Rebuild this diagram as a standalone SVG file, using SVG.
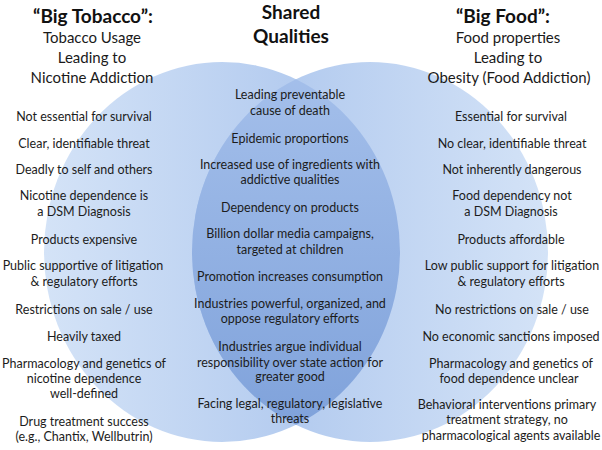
<svg xmlns="http://www.w3.org/2000/svg" width="602" height="450" viewBox="0 0 602 450">
<style>
text{font-family:Lato,"Open Sans","Liberation Sans",sans-serif;fill:#1c1c1c;text-anchor:middle}
.h{font-weight:bold;font-size:19px;fill:#111}
.s{font-size:15px;fill:#1a1a1a}
.i{font-size:12.5px}
</style>
<defs>
<linearGradient id="gL" x1="0" y1="0" x2="1" y2="0">
<stop offset="0" stop-color="#d4e3f7"/>
<stop offset="1" stop-color="#a7c2ec"/>
</linearGradient>
<linearGradient id="gR" x1="1" y1="0" x2="0" y2="0">
<stop offset="0" stop-color="#d4e3f7"/>
<stop offset="1" stop-color="#a7c2ec"/>
</linearGradient>
<linearGradient id="gM" x1="0" y1="0" x2="0" y2="1">
<stop offset="0" stop-color="#a5c0eb"/>
<stop offset="1" stop-color="#7ea1da"/>
</linearGradient>
<clipPath id="cL"><ellipse cx="222" cy="252" rx="178" ry="190"/></clipPath>
</defs>
<g id="venn">
<ellipse id="circle-tobacco" cx="222" cy="252" rx="178" ry="190" fill="url(#gL)"/>
<ellipse id="circle-food" cx="370" cy="252" rx="178" ry="190" fill="url(#gR)"/>
<ellipse id="overlap" cx="370" cy="252" rx="178" ry="190" fill="url(#gM)" clip-path="url(#cL)"/>
</g>
<g id="header-tobacco">
<text class="h" x="93" y="23">“Big Tobacco”:</text>
<text class="s" x="92" y="43">Tobacco Usage</text>
<text class="s" x="92" y="63">Leading to</text>
<text class="s" x="92" y="83">Nicotine Addiction</text>
</g>
<g id="header-shared">
<text class="h" x="291" y="19">Shared</text>
<text class="h" x="291" y="43">Qualities</text>
</g>
<g id="header-food">
<text class="h" x="503" y="23">“Big Food”:</text>
<text class="s" x="508" y="43">Food properties</text>
<text class="s" x="508" y="63">Leading to</text>
<text class="s" x="509" y="83">Obesity (Food Addiction)</text>
</g>
<g id="list-tobacco" class="i">
<text x="84" y="121">Not essential for survival</text>
<text x="84" y="148">Clear, identifiable threat</text>
<text x="84" y="174">Deadly to self and others</text>
<text x="84" y="200">Nicotine dependence is</text>
<text x="84" y="216">a DSM Diagnosis</text>
<text x="84" y="244">Products expensive</text>
<text x="83" y="270">Public supportive of litigation</text>
<text x="84" y="286">&amp; regulatory efforts</text>
<text x="84" y="314">Restrictions on sale / use</text>
<text x="84" y="341">Heavily taxed</text>
<text x="84" y="368">Pharmacology and genetics of</text>
<text x="84" y="383">nicotine dependence</text>
<text x="84" y="398">well-defined</text>
<text x="84" y="426">Drug treatment success</text>
<text x="84" y="441">(e.g., Chantix, Wellbutrin)</text>
</g>
<g id="list-shared" class="i">
<text x="290" y="99">Leading preventable</text>
<text x="290" y="115">cause of death</text>
<text x="290" y="143">Epidemic proportions</text>
<text x="290" y="169">Increased use of ingredients with</text>
<text x="290" y="184">addictive qualities</text>
<text x="290" y="212">Dependency on products</text>
<text x="290" y="238">Billion dollar media campaigns,</text>
<text x="290" y="254">targeted at children</text>
<text x="290" y="281">Promotion increases consumption</text>
<text x="290" y="308">Industries powerful, organized, and</text>
<text x="290" y="323">oppose regulatory efforts</text>
<text x="290" y="351">Industries argue individual</text>
<text x="290" y="367">responsibility over state action for</text>
<text x="290" y="381">greater good</text>
<text x="290" y="408">Facing legal, regulatory, legislative</text>
<text x="290" y="423">threats</text>
</g>
<g id="list-food" class="i">
<text x="511" y="121">Essential for survival</text>
<text x="512" y="148">No clear, identifiable threat</text>
<text x="512" y="174">Not inherently dangerous</text>
<text x="512" y="200">Food dependency not</text>
<text x="511" y="216">a DSM Diagnosis</text>
<text x="511" y="244">Products affordable</text>
<text x="512" y="270">Low public support for litigation</text>
<text x="511" y="286">&amp; regulatory efforts</text>
<text x="512" y="314">No restrictions on sale / use</text>
<text x="511" y="341">No economic sanctions imposed</text>
<text x="511" y="368">Pharmacology and genetics of</text>
<text x="509" y="383">food dependence unclear</text>
<text x="507" y="409">Behavioral interventions primary</text>
<text x="507" y="424">treatment strategy, no</text>
<text x="511" y="440">pharmacological agents available</text>
</g>
</svg>
